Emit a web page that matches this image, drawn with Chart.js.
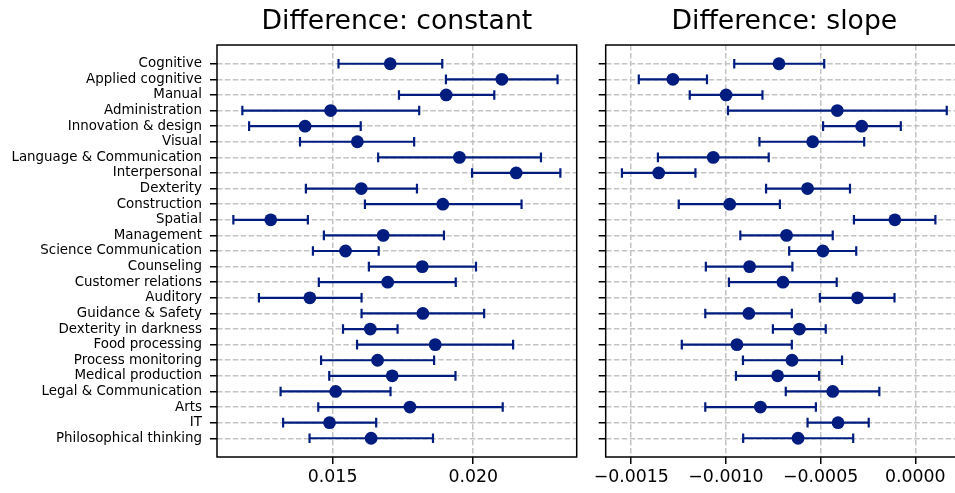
<!DOCTYPE html>
<html>
<head>
<meta charset="utf-8">
<script src="https://cdn.jsdelivr.net/npm/chart.js@4/dist/chart.umd.min.js"></script>
<style>
  html, body { margin: 0; padding: 0; background: #fff; overflow: hidden; width: 955px; height: 493px; }
  .wrap { position: absolute; top: 0; }
  canvas { display: block; }
</style>
</head>
<body>
<div class="wrap" style="left:0px;"><canvas id="c1" width="590" height="493"></canvas></div>
<div class="wrap" style="left:590px;"><canvas id="c2" width="380" height="493"></canvas></div>
<script>
const categories = ["Cognitive","Applied cognitive","Manual","Administration","Innovation & design","Visual","Language & Communication","Interpersonal","Dexterity","Construction","Spatial","Management","Science Communication","Counseling","Customer relations","Auditory","Guidance & Safety","Dexterity in darkness","Food processing","Process monitoring","Medical production","Legal & Communication","Arts","IT","Philosophical thinking"];

const constMean = [0.01705,0.02102,0.01904,0.01493,0.01402,0.01588,0.01951,0.02153,0.01602,0.01892,0.01280,0.01680,0.01546,0.01819,0.01696,0.01419,0.01821,0.01634,0.01865,0.01660,0.01712,0.01511,0.01775,0.01489,0.01637];
const constLow  = [0.01521,0.01903,0.01736,0.01179,0.01203,0.01384,0.01662,0.01996,0.01405,0.01615,0.01147,0.01469,0.01430,0.01629,0.01451,0.01238,0.01603,0.01537,0.01587,0.01459,0.01488,0.01315,0.01449,0.01324,0.01418];
const constHigh = [0.01890,0.02300,0.02075,0.01808,0.01600,0.01790,0.02241,0.02310,0.01800,0.02172,0.01412,0.01896,0.01664,0.02010,0.01938,0.01603,0.02039,0.01731,0.02142,0.01861,0.01937,0.01706,0.02105,0.01655,0.01857];

const slopeMean = [-0.000720,-0.001280,-0.000999,-0.000412,-0.000283,-0.000542,-0.001067,-0.001355,-0.000569,-0.000980,-0.000108,-0.000680,-0.000488,-0.000875,-0.000699,-0.000305,-0.000879,-0.000612,-0.000942,-0.000651,-0.000727,-0.000436,-0.000818,-0.000408,-0.000619];
const slopeLow  = [-0.000956,-0.001460,-0.001191,-0.000989,-0.000487,-0.000823,-0.001359,-0.001549,-0.000788,-0.001249,-0.000324,-0.000924,-0.000666,-0.001106,-0.000984,-0.000504,-0.001109,-0.000752,-0.001233,-0.000910,-0.000947,-0.000684,-0.001109,-0.000569,-0.000909];
const slopeHigh = [-0.000481,-0.001100,-0.000807,0.000166,-0.0000767,-0.000270,-0.000774,-0.001161,-0.000345,-0.000715,0.000106,-0.000436,-0.000312,-0.000649,-0.000415,-0.000110,-0.000652,-0.000473,-0.000652,-0.000387,-0.000508,-0.000190,-0.000525,-0.000246,-0.000328];

const constTicks = [0.015, 0.020];
const slopeTicks = [-0.0015, -0.0010, -0.0005, 0.0000];

const NAVY = '#001c7f';
const FONT = 'DejaVu Sans';

const framePlugin = {
  id: 'frame',
  afterDraw(chart) {
    const a = chart.chartArea, ctx = chart.ctx;
    ctx.save();
    ctx.strokeStyle = '#000';
    ctx.lineWidth = 1.5;
    ctx.strokeRect(a.left, a.top, a.right - a.left, a.bottom - a.top);
    ctx.restore();
  }
};

function limits(lo, hi) {
  const mn = Math.min(...lo), mx = Math.max(...hi), r = mx - mn;
  return [mn - 0.05 * r, mx + 0.05 * r];
}

function makeChart(id, cfg) {
  const [xmin, xmax] = limits(cfg.low, cfg.high);
  const whiskers = [];
  cfg.low.forEach((lo, i) => {
    whiskers.push({x: lo, y: i}, {x: cfg.high[i], y: i}, {x: NaN, y: NaN});
  });
  const caps = cfg.low.map((lo, i) => ({x: lo, y: i})).concat(cfg.high.map((hi, i) => ({x: hi, y: i})));
  const dots = cfg.mean.map((m, i) => ({x: m, y: i}));

  return new Chart(document.getElementById(id), {
    type: 'scatter',
    data: {
      datasets: [
        { data: dots, pointStyle: 'circle', pointRadius: 6.4, pointBackgroundColor: NAVY, pointBorderWidth: 0, showLine: false },
        { data: caps, pointStyle: 'line', pointRotation: 90, pointRadius: 4.8, pointBorderColor: NAVY, pointBorderWidth: 2.2, showLine: false },
        { data: whiskers, showLine: true, spanGaps: false, borderColor: NAVY, borderWidth: 2.2, pointRadius: 0, fill: false }
      ]
    },
    options: {
      responsive: false,
      animation: false,
      events: [],
      devicePixelRatio: 1,
      layout: { padding: { left: 0, right: cfg.padRight, top: 0, bottom: 0 } },
      plugins: {
        legend: { display: false },
        tooltip: { enabled: false },
        title: {
          display: true, text: cfg.title, fullSize: false, color: '#000',
          font: { family: FONT, size: 26.67, weight: 'normal', lineHeight: 1.2 },
          padding: { top: 6.3, bottom: 6.7 }
        }
      },
      scales: {
        x: {
          type: 'linear', position: 'bottom', min: xmin, max: xmax,
          afterBuildTicks: (s) => { s.ticks = cfg.xTicks.map(v => ({value: v})); },
          afterFit: (s) => { s.height = 36; s.paddingLeft = 0; s.paddingRight = 0; },
          ticks: { callback: cfg.xFormat, color: '#000', padding: 3, autoSkip: false, maxRotation: 0,
                   font: { family: FONT, size: 17.33 } },
          grid: { color: '#c4c4c4', lineWidth: 1.5, tickColor: '#000', tickWidth: 1.5, tickLength: 7, drawTicks: true },
          border: { display: false, dash: [5.5, 2.4] }
        },
        y: {
          type: 'linear', position: 'left', reverse: true, min: -1.2, max: 25.2,
          afterBuildTicks: (s) => { s.ticks = categories.map((_, i) => ({value: i})); },
          afterFit: (s) => { s.width = cfg.yWidth; s.paddingTop = 0; s.paddingBottom = 0; },
          ticks: { display: cfg.showLabels, autoSkip: false, color: '#000', padding: 8,
                   callback: (v) => categories[Math.round(v)],
                   font: { family: FONT, size: 13.4 } },
          grid: { color: '#c4c4c4', lineWidth: 1.5, tickColor: '#000', tickWidth: 1.5, tickLength: 7, drawTicks: true },
          border: { display: false, dash: [5.5, 2.4] }
        }
      }
    },
    plugins: [framePlugin]
  });
}

makeChart('c1', {
  title: 'Difference: constant', mean: constMean, low: constLow, high: constHigh,
  xTicks: constTicks, xFormat: (v) => v.toFixed(3),
  yWidth: 217, padRight: 13.3, showLabels: true
});

makeChart('c2', {
  title: 'Difference: slope', mean: slopeMean, low: slopeLow, high: slopeHigh,
  xTicks: slopeTicks, xFormat: (v) => v.toFixed(4).replace('-', '\u2212'),
  yWidth: 15.7, padRight: 4.6, showLabels: false
});
</script>
</body>
</html>
